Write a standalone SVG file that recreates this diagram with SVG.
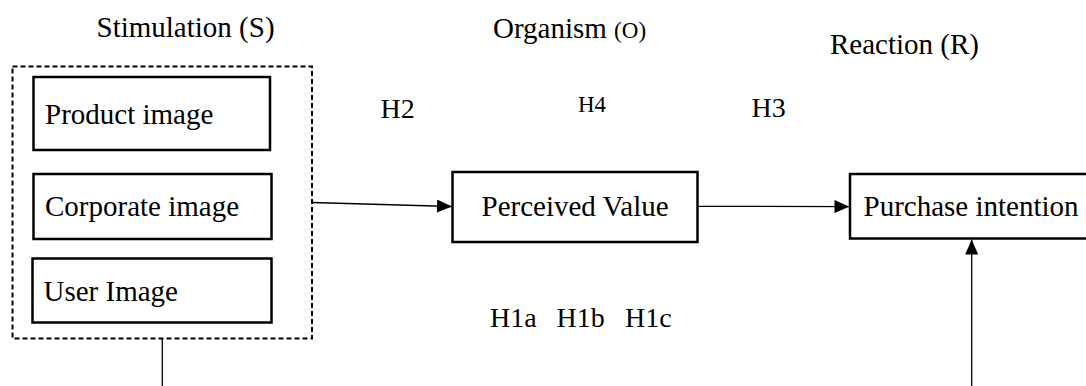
<svg xmlns="http://www.w3.org/2000/svg" width="1086" height="386" viewBox="0 0 1086 386">
  <style>
    text { font-family: 'Liberation Serif', 'Times New Roman', Times, serif; fill: #000; }
    .lbl { font-size: 29px; }
    .hyp { font-size: 28px; }
    .small { font-size: 23px; }
    .box { fill: #fff; stroke: #000; stroke-width: 2.5; }
    .group { fill: none; stroke: #000; stroke-width: 2; stroke-dasharray: 5 3; }
    .conn { fill: none; stroke: #000; stroke-width: 1.3; }
  </style>
  <defs>
    <marker id="arrow" viewBox="0 0 15 13" refX="15" refY="6.5" markerWidth="15" markerHeight="13" markerUnits="userSpaceOnUse" orient="auto">
      <path d="M0,0 L15,6.5 L0,13 Z" fill="#000"/>
    </marker>
  </defs>
  <rect width="1086" height="386" fill="#fff"/>

  <!-- stage headings -->
  <g id="headings">
    <text class="lbl" x="96.5" y="37">Stimulation (S)</text>
    <text class="lbl" x="493" y="38">Organism <tspan class="small">(O)</tspan></text>
    <text class="lbl" x="830" y="54">Reaction (R)</text>
  </g>

  <!-- hypothesis labels -->
  <g id="hypotheses">
    <text class="hyp" x="380.5" y="118">H2</text>
    <text class="small" x="578" y="112">H4</text>
    <text class="hyp" x="751.5" y="117">H3</text>
    <text class="hyp" y="327"><tspan x="490">H1a</tspan><tspan x="556.5">H1b</tspan><tspan x="625">H1c</tspan></text>
  </g>

  <!-- stimulation group -->
  <g id="stimulation">
    <rect class="group" x="12.5" y="66.5" width="299.5" height="272"/>
    <g id="product-image">
      <rect class="box" x="33.5" y="77" width="236.5" height="73"/>
      <text class="lbl" x="45" y="124">Product image</text>
    </g>
    <g id="corporate-image">
      <rect class="box" x="33.5" y="174" width="238" height="65"/>
      <text class="lbl" x="45" y="216">Corporate image</text>
    </g>
    <g id="user-image">
      <rect class="box" x="32.5" y="258.5" width="239" height="64"/>
      <text class="lbl" x="43.5" y="301">User Image</text>
    </g>
  </g>

  <g id="perceived-value">
    <rect class="box" x="452.5" y="172" width="245" height="70"/>
    <text class="lbl" x="481.5" y="216">Perceived Value</text>
  </g>

  <g id="purchase-intention">
    <rect class="box" x="850" y="174" width="250" height="64.5"/>
    <text class="lbl" x="863.5" y="216">Purchase intention</text>
  </g>

  <!-- connectors -->
  <g id="connectors">
    <line class="conn" x1="312" y1="202.5" x2="452" y2="206.5" marker-end="url(#arrow)"/>
    <line class="conn" x1="697.5" y1="206.3" x2="849.5" y2="206.6" marker-end="url(#arrow)"/>
    <line class="conn" x1="162.3" y1="339" x2="162.3" y2="386"/>
    <line class="conn" x1="971.7" y1="386" x2="971.7" y2="239.5" marker-end="url(#arrow)"/>
  </g>
</svg>
